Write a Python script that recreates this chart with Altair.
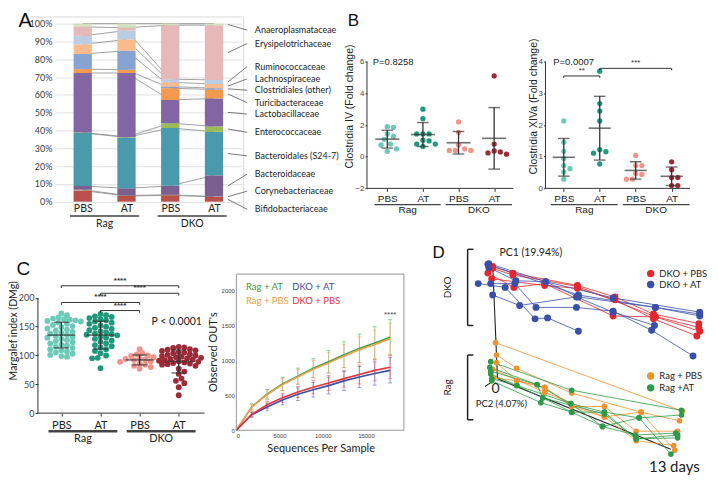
import altair as alt
import pandas as pd

SX, SY = 0.966, 0.955
def X(v): return round(v * SX, 2)
def Y(v): return round(v * SY, 2)

F1 = "Liberation Sans"
F2 = "Lato"
INK = "#333333"

# ===================== Panel A data =====================
a_treat = ["PBS", "AT", "PBS", "AT"]
a_strain = ["Rag", "Rag", "DKO", "DKO"]
a_families = ["Bifidobacteriaceae", "Corynebacteriaceae", "Bacteroidaceae",
              "Bacteroidales (S24-7)", "Enterococcaceae", "Lactobacillaceae",
              "Turicibacteraceae", "Clostridiales (other)", "Lachnospiraceae",
              "Ruminococcaceae", "Erysipelotrichaceae", "Anaeroplasmataceae"]
a_colors = ["#b9504c", "#a8a070", "#7b5f90", "#4b99ad", "#9bbb59", "#8266a3",
            "#f39a4f", "#86a3d1", "#f9bb8e", "#bacde5", "#e6b9b8", "#d5e0c0"]
a_rag_pbs = [6.25, 0.5, 2.1, 29.8, 0.2, 33.4, 2.2, 8.5, 5.4, 4.8, 5.0, 1.85]
a_rag_at = [3.2, 0.3, 4.0, 28.6, 0.3, 35.9, 1.8, 10.7, 6.3, 5.0, 1.6, 2.3]
a_dko_pbs = [3.6, 0.3, 5.0, 32.5, 2.7, 13.0, 6.65, 0.9, 2.4, 1.75, 30.35, 0.85]
a_dko_at = [2.7, 0.2, 11.9, 24.5, 3.0, 15.7, 5.0, 0.75, 2.35, 2.3, 30.7, 0.9]
# legend label heights (layout, % units), bottom -> top
a_label_y = [-4.3, 5.9, 15.5, 25.7, 39.0, 49.2, 55.6, 62.6, 69.0, 75.9, 88.8, 96.3]

# ===================== Panel B / C1 data =====================
grp_names = ["Rag PBS", "Rag AT", "DKO PBS", "DKO AT"]
grp_colors = ["#6ccab8", "#21977b", "#f2938b", "#9c2b37"]
b1_rag_pbs = [1.9, 1.86, 1.44, 1.3, 1.1, 0.8, 0.74, 0.5, 0.34]
b1_rag_at = [3.0, 2.4, 1.44, 1.44, 1.44, 1.04, 1.0, 0.8, 0.8, 0.65]
b1_dko_pbs = [2.2, 1.54, 0.74, 0.5, 0.4, 0.4, 0.4]
b1_dko_at = [5.1, 0.8, 0.36, 0.3, 0.24, 0.16]
b2_rag_pbs = [2.13, 1.46, 1.17, 0.94, 0.72, 0.62, 0.52, 0.29]
b2_rag_at = [3.7, 2.68, 2.44, 2.13, 1.22, 1.16, 1.11, 0.77]
b2_dko_pbs = [1.04, 0.72, 0.72, 0.47, 0.44, 0.29, 0.29]
b2_dko_at = [0.84, 0.59, 0.34, 0.34, 0.09, 0.09]
b2_brackets = [(0, 1, 3.55, "**"), (1, 3, 3.79, "***")]

c1_rag_pbs = [173, 170, 166, 164, 163, 162, 161, 160, 159, 157, 155, 153, 151, 149,
              147, 145, 143, 141, 139, 138, 136, 134, 132, 131, 129, 127, 125, 123,
              121, 119, 117, 115, 113, 111, 109, 107, 105, 103, 101, 99, 98]
c1_rag_at = [172, 170, 168, 167, 165, 163, 161, 159, 157, 155, 152, 150, 148, 146,
             144, 142, 140, 138, 137, 136, 135, 133, 131, 129, 126, 124, 121, 118,
             116, 114, 111, 108, 104, 100, 96, 95, 78]
c1_dko_pbs = [111, 104, 102, 100, 99, 97, 95, 94, 93, 92, 91, 90, 89, 88, 86, 84, 82, 80, 77]
c1_dko_at = [115, 114, 113, 111, 110, 109, 108, 106, 105, 104, 102, 101, 100, 99, 98,
             97, 96, 95, 94, 93, 92, 91, 90, 89, 88, 87, 86, 85, 84, 82,
             77, 72, 68, 60, 56, 52, 45, 31]
c1_brackets = [(0, 3, 221, "****"), (1, 3, 208, "****"), (0, 2, 192, "****"), (1, 2, 178, "****")]

# ===================== Panel C2 data =====================
c2_depth = [0, 1780, 3560, 5340, 7120, 8900, 10680, 12460, 14240, 16020, 17800]
c2_series = ["Rag + AT", "Rag + PBS", "DKO + AT", "DKO + PBS"]
c2_colors = ["#3f9a48", "#f0a04c", "#3e4fa2", "#e6323f"]
c2_rag_at = [0, 333, 514, 660, 773, 887, 978, 1078, 1169, 1247, 1329]
c2_rag_pbs = [0, 330, 508, 652, 762, 872, 962, 1060, 1148, 1224, 1306]
c2_dko_at = [0, 221, 333, 432, 514, 578, 637, 705, 760, 810, 855]
c2_dko_pbs = [0, 228, 364, 464, 546, 614, 674, 737, 796, 855, 900]
c2_rag_at_err = [0, 45, 70, 95, 115, 135, 160, 185, 205, 230, 250]
c2_rag_pbs_err = [0, 40, 65, 85, 105, 125, 145, 165, 185, 205, 225]
c2_dko_at_err = [0, 35, 55, 70, 90, 105, 120, 135, 150, 165, 180]
c2_dko_pbs_err = [0, 35, 50, 65, 80, 95, 105, 120, 135, 150, 165]

# ===================== Panel D data (projected PCA coordinates) =====================
d_groups = ["DKO + PBS", "DKO + AT", "Rag + PBS", "Rag +AT"]
d_colors = ["#e5262e", "#3a4fa8", "#f0922e", "#2f9a4a"]
d_dko_pbs = [
    [(28, 20), (49, 27), (116, 40), (155, 52), (195, 70), (242, 80)],
    [(23, 27), (50, 42), (82, 38), (153, 72), (197, 73), (243, 88)],
    [(27, 33), (82, 40), (116, 43), (155, 55), (195, 75), (240, 93)],
    [(28, 22), (49, 29), (116, 41), (195, 72), (242, 84)],
]
d_dko_at = [
    [(24, 17), (83, 36), (153, 53), (243, 68)],
    [(23, 18), (117, 50), (197, 63), (243, 72)],
    [(13, 38), (41, 42), (72, 75), (85, 74), (117, 88)],
    [(26, 38), (51, 38), (73, 63), (115, 63), (153, 67), (193, 87), (236, 114)],
    [(28, 50), (56, 61), (115, 52), (153, 68), (196, 82)],
    [(24, 21), (52, 35), (83, 36), (117, 52), (197, 63), (243, 70)],
]
d_rag_pbs = [
    [(31, 100), (225, 172)],
    [(32, 113), (53, 127), (110, 153), (182, 173), (222, 182)],
    [(32, 121), (53, 140), (82, 147), (110, 167), (144, 167), (177, 193), (220, 193)],
    [(28, 128), (82, 152), (144, 178), (177, 203), (216, 208)],
    [(29, 137), (53, 140), (82, 147), (110, 167), (144, 178), (182, 173), (217, 213)],
]
d_rag_at = [
    [(25, 126), (74, 144), (109, 164), (144, 173), (180, 179), (224, 176)],
    [(26, 133), (53, 145), (80, 158), (110, 173), (142, 188), (176, 197), (218, 195)],
    [(27, 140), (78, 163), (110, 173), (144, 173), (177, 201), (220, 200)],
    [(27, 138), (53, 145), (109, 164), (142, 188), (180, 179), (213, 217)],
    [(26, 130), (74, 144), (80, 158), (144, 175), (177, 201), (220, 197)],
    [(26, 120), (110, 150), (224, 171)],
]
d_axes = [(28, 18, 33, 138), (33, 138, 213, 212), (26, 142, 20, 146)]
d_brackets = [("DKO", 2, 82), ("Rag", 113, 181)]


def ann(text, x, y, **kw):
    return alt.Chart(pd.DataFrame({"t": [text]})).mark_text(**kw).encode(
        x=alt.value(x), y=alt.value(y), text="t:N")


def hline(x1, x2, y, **kw):
    return alt.Chart(pd.DataFrame({"t": [0]})).mark_rule(**kw).encode(
        x=alt.value(x1), x2=alt.value(x2), y=alt.value(y))


def vline(x, y1, y2, **kw):
    return alt.Chart(pd.DataFrame({"t": [0]})).mark_rule(**kw).encode(
        x=alt.value(x), y=alt.value(y1), y2=alt.value(y2))


def ghost(y):
    return hline(0, 5, y, strokeOpacity=0, strokeWidth=1)


def swarm(vals, ppu, d, k=0.97):
    order = sorted(range(len(vals)), key=lambda i: -vals[i])
    cands = [0.0]
    for j in range(1, 60):
        cands += [j * d * 0.5, -j * d * 0.5]
    placed, offs = [], [0.0] * len(vals)
    for i in order:
        yp = vals[i] * ppu
        for c in cands:
            if all((c - px) ** 2 + (yp - py) ** 2 >= d * d * k for px, py in placed):
                break
        offs[i] = c
        placed.append((c, yp))
    return offs


def lin_scale(dom, r0, r1, size, reverse=False):
    """Linear scale mapping dom[0] -> r0 px and dom[1] -> r1 px in a view of `size` px,
    written as a domain over the default [0, size] range."""
    a, b = dom
    if not reverse:
        ppu = (r1 - r0) / (b - a)
        lo = a - r0 / ppu
    else:
        ppu = (r0 - r1) / (b - a)
        lo = a - (size - r0) / ppu
    return alt.Scale(domain=[lo, lo + size / ppu], nice=False, zero=False)


lab_expr = "[" + ",".join("'%s'" % t for t in a_treat) + "][datum.value]"
strains = []
for s_ in a_strain:
    if s_ not in strains:
        strains.append(s_)
grp_centers = [sum(i for i, s2 in enumerate(a_strain) if s2 == s) / a_strain.count(s) for s in strains]
grp_scale = alt.Scale(domain=grp_names, range=grp_colors)


def dot_panel(series, W, H, xdom, xr, ydom, yr, yticks, ytitle, dot, d, mean_w, cap_w,
              xlab, ylab, ytsize, font, grp_dy, grp_tdy, grp_shift, grp_half, grp_w,
              ytick, xlab_pad, kcol=0.97):
    ppu = (yr[0] - yr[1]) / (ydom[1] - ydom[0])
    step = xr / (xdom[1] - xdom[0])
    rows = []
    for gi, vals in enumerate(series):
        offs = swarm(vals, ppu, d, kcol)
        for v, o in zip(vals, offs):
            rows.append({"grp": grp_names[gi], "idx": gi, "value": v, "xpos": gi + o / step})
    df = pd.DataFrame(rows)
    xs = lin_scale(xdom, 0, xr, W)
    ys = lin_scale(ydom, yr[0], yr[1], H, reverse=True)
    xax = alt.Axis(values=[0, 1, 2, 3], labelExpr=lab_expr, title="", grid=False, tickSize=3,
                   tickColor=INK, domain=False, labelFont=font, labelFontSize=xlab,
                   labelColor="#222", labelPadding=xlab_pad)
    yax = alt.Axis(values=yticks, title=ytitle, grid=False, tickSize=ytick, tickColor=INK,
                   domain=False, labelFont=font, labelFontSize=ylab, labelColor="#444",
                   labelPadding=1, titleFont=font, titleFontSize=ytsize, titleFontWeight="normal",
                   titleColor="#222", titlePadding=0)
    X_ = lambda f: alt.X(f, scale=xs, axis=xax, title="")
    Y_ = lambda f: alt.Y(f, scale=ys, axis=yax, title=ytitle)
    dl = pd.DataFrame({"x0": [xdom[0]], "x1": [xdom[1]], "y0": [ydom[0]], "y1": [ydom[1]]})
    xline = alt.Chart(dl).mark_rule(color=INK, strokeWidth=1).encode(x=X_("x0:Q"), x2="x1:Q", y=Y_("y0:Q"))
    yline = alt.Chart(dl).mark_rule(color=INK, strokeWidth=1).encode(x=X_("x0:Q"), y=Y_("y0:Q"), y2="y1:Q")
    pts = alt.Chart(df).mark_circle(size=dot, opacity=1).encode(
        x=X_("xpos:Q"), y=Y_("value:Q"),
        color=alt.Color("grp:N", scale=grp_scale, legend=None))
    stats = alt.Chart(df).transform_aggregate(
        m="mean(value)", s="stdev(value)", groupby=["idx"]).transform_calculate(
        lo="datum.m - datum.s", hi="datum.m + datum.s")
    err = stats.mark_rule(color=INK, strokeWidth=1.3).encode(x=X_("idx:Q"), y=Y_("lo:Q"), y2="hi:Q")
    mt = stats.mark_tick(orient="horizontal", size=mean_w, thickness=1.6, color=INK).encode(
        x=X_("idx:Q"), y=Y_("m:Q"))
    cl = stats.mark_tick(orient="horizontal", size=cap_w, thickness=1.4, color=INK).encode(
        x=X_("idx:Q"), y=Y_("lo:Q"))
    ch = stats.mark_tick(orient="horizontal", size=cap_w, thickness=1.4, color=INK).encode(
        x=X_("idx:Q"), y=Y_("hi:Q"))
    dg = pd.DataFrame({"g": strains, "c": grp_centers})
    gr = alt.Chart(dg).transform_calculate(
        x1=f"datum.c + {grp_shift} - {grp_half}", x2=f"datum.c + {grp_shift} + {grp_half}",
        xm=f"datum.c + {grp_shift}")
    gl = gr.mark_rule(color="#444", strokeWidth=grp_w).encode(
        x=X_("x1:Q"), x2="x2:Q", y=alt.value(H + grp_dy))
    gt = gr.mark_text(font=font, fontSize=xlab, color="#222", baseline="middle").encode(
        x=X_("xm:Q"), y=alt.value(H + grp_tdy), text="g:N")
    ctx = {"X": X_, "Y": Y_}
    return [xline, yline, pts, err, mt, cl, ch, gl, gt], ctx


def brackets(br, ctx, drop, fsize, bold=False):
    X_, Y_ = ctx["X"], ctx["Y"]
    df = pd.DataFrame(br, columns=["a", "b", "yv", "lab"])
    base = alt.Chart(df).transform_calculate(yl=f"datum.yv - {drop}", xm="(datum.a + datum.b) / 2")
    h = base.mark_rule(color=INK, strokeWidth=1).encode(x=X_("a:Q"), x2="b:Q", y=Y_("yv:Q"))
    l = base.mark_rule(color=INK, strokeWidth=1).encode(x=X_("a:Q"), y=Y_("yv:Q"), y2="yl:Q")
    r = base.mark_rule(color=INK, strokeWidth=1).encode(x=X_("b:Q"), y=Y_("yv:Q"), y2="yl:Q")
    t = base.mark_text(fontSize=fsize, dy=-1, baseline="bottom", color=INK, font=F1,
                       fontWeight="bold" if bold else "normal").encode(
        x=X_("xm:Q"), y=Y_("yv:Q"), text="lab:N")
    return [h, l, r, t]


# ===================== Panel A =====================
rowsA = []
for i, vals in enumerate([a_rag_pbs, a_rag_at, a_dko_pbs, a_dko_at]):
    cum = 0.0
    for j, (f, v) in enumerate(zip(a_families, vals)):
        rowsA.append({"idx": i, "family": f, "k": j, "lo": cum, "hi": cum + v})
        cum += v
dfA = pd.DataFrame(rowsA)
HA, WA = Y(187), X(193)
xsA = lin_scale((-0.5, 3.5), 0, X(192), WA)
ysA = alt.Scale(domain=[0, 100], nice=False)
xaxA = alt.Axis(values=[0, 1, 2, 3], labelExpr=lab_expr, title="", grid=False, ticks=False,
                domain=False, labelFont=F2, labelFontSize=10.5, labelColor="#222", labelPadding=2)
yaxA = alt.Axis(values=list(range(0, 101, 10)), labelExpr="datum.value + '%'", title="", grid=True,
                gridColor="#d9d9d9", gridWidth=0.8, ticks=False, domain=False, labelFont=F2,
                labelFontSize=9, labelColor="#404040", labelPadding=4)
XA = lambda f: alt.X(f, scale=xsA, axis=xaxA, title="")
YA = lambda f: alt.Y(f, scale=ysA, axis=yaxA, title="")

connA = alt.Chart(dfA).mark_line(color="#8a8a8a", strokeWidth=0.8).encode(
    x=XA("idx:Q"), y=YA("hi:Q"), detail="family:N")
barsA = alt.Chart(dfA).mark_bar(size=X(19)).encode(
    x=XA("idx:Q"), y=YA("lo:Q"), y2="hi:Q",
    color=alt.Color("family:N", scale=alt.Scale(domain=a_families, range=a_colors), legend=None))
dgA = pd.DataFrame({"g": strains, "c": grp_centers})
grA = alt.Chart(dgA).transform_calculate(x1="datum.c - 0.79", x2="datum.c + 0.79")
glA = grA.mark_rule(color="#404040", strokeWidth=1.6).encode(
    x=XA("x1:Q"), x2="x2:Q", y=alt.value(HA + Y(15)))
gtA = grA.mark_text(font=F2, fontSize=10.5, color="#222", baseline="middle").encode(
    x=XA("c:Q"), y=alt.value(HA + Y(23)), text="g:N")
borderTop = hline(X(-27), X(195), Y(-7), color="#d0d0d0", strokeWidth=0.8)
borderRight = vline(X(195), Y(-7), Y(197), color="#d0d0d0", strokeWidth=0.8)
letterA = ann("A", X(-32), Y(-3), font=F1, fontSize=20, color="#111", align="center", baseline="middle")
ROW1_BOTTOM = 211.0
chartA = alt.layer(connA, barsA, glA, gtA, borderTop, borderRight, letterA,
                   ghost(ROW1_BOTTOM - 0.5)).properties(width=WA, height=HA)

# legend with leader lines
mids = []
cum = 0.0
for v in a_dko_at:
    mids.append(cum + v / 2)
    cum += v
dfL = pd.DataFrame({"family": a_families, "ly": a_label_y, "mid": mids})
leaders = alt.Chart(dfL).mark_rule(color="#404040", strokeWidth=0.7).encode(
    x=alt.value(X(-15)), x2=alt.value(X(5)),
    y=alt.Y("mid:Q", scale=ysA, axis=None), y2="ly:Q")
labelsL = alt.Chart(dfL).mark_text(align="left", baseline="middle", font=F2, fontSize=9,
                                   color="#222").encode(
    x=alt.value(X(13)), y=alt.Y("ly:Q", scale=ysA, axis=None), text="family:N")
chartL = alt.layer(leaders, labelsL).properties(width=X(129), height=HA)

# ===================== Panel B1 =====================
HB = Y(173)
b1_layers, ctxB1 = dot_panel(
    [b1_rag_pbs, b1_rag_at, b1_dko_pbs, b1_dko_at], X(185), HB, (-0.57, 3.54), X(152),
    (-2, 6), (HB, Y(40)), [-2, 0, 2, 4, 6], "Clostridia IV (Fold change)",
    28, 6.2, X(25), X(12), 10, 8, 10.5, F1, Y(17), Y(23), 0.07, 0.93, 1.3, 2, 2)
b1_layers += [
    ann("P=0.8258", X(6), Y(40), font=F1, fontSize=9.5, color="#222", align="left", baseline="middle"),
    ann("B", X(-14), Y(-2.5), font=F1, fontSize=17, color="#111", align="center", baseline="middle"),
]
chartB1 = alt.layer(*b1_layers).properties(width=X(185), height=HB)

# ===================== Panel B2 =====================
b2_layers, ctxB2 = dot_panel(
    [b2_rag_pbs, b2_rag_at, b2_dko_pbs, b2_dko_at], X(153), HB, (-0.51, 3.51), X(150),
    (0, 4), (HB, Y(40)), [0, 1, 2, 3, 4], "Clostridia XIVa (Fold change)",
    28, 6.2, X(23), X(12), 10, 8, 10.5, F1, Y(17), Y(23), 0.07, 0.93, 1.3, 2, 2)
b2_layers += brackets(b2_brackets, ctxB2, 0.06, 8)
b2_layers += [ann("P=0.0007", X(8), Y(40), font=F1, fontSize=9.5, color="#222", align="left", baseline="middle")]
chartB2 = alt.layer(*b2_layers).properties(width=X(153), height=HB)

# ===================== Panel C2 geometry =====================
HC2, WC2 = Y(192), X(238)
C2_PLOT_W = X(174)
C2_TOP = Y(28)
xsC2 = lin_scale((0, 19400), 0, C2_PLOT_W, WC2)
ysC2 = lin_scale((0, 2230), HC2, C2_TOP, HC2, reverse=True)

# ===================== Panel C1 =====================
HC = Y(174)
WC1 = X(205)
c1_layers, ctxC1 = dot_panel(
    [c1_rag_pbs, c1_rag_at, c1_dko_pbs, c1_dko_at], WC1, HC, (-0.6, 3.66), X(173),
    (0, 200), (HC, Y(53)), [0, 50, 100, 150, 200], "Margalef index (DMg)",
    34, 5.6, X(29), X(15), 11, 9, 10.5, F2, Y(19), Y(27), 0.05, 0.88, 2.4, 3, 3, 0.75)
c1_layers += brackets(c1_brackets, ctxC1, 4, 8, bold=True)
c1_layers += [
    ann("P < 0.0001", X(118), Y(78), font=F2, fontSize=10.5, color="#222", align="left", baseline="middle"),
    ann("C", X(-15), Y(23), font=F1, fontSize=19, color="#111", align="center", baseline="middle"),
    ann("Sequences Per Sample", WC1 + X(89), HC2 + Y(20), font=F2, fontSize=11, color="#222",
        align="center", baseline="middle"),
    ann("Observed OUT's", WC1 - X(22), Y(110), font=F2, fontSize=11, color="#222", angle=270,
        align="center", baseline="middle"),
]
chartC1 = alt.layer(*c1_layers).properties(width=WC1, height=HC)

# ===================== Panel C2 =====================
xaxC2 = alt.Axis(values=[0, 5000, 10000, 15000], format="d", title="", grid=False, ticks=False,
                 domain=False, labelFont=F1, labelFontSize=6, labelColor="#444", labelPadding=2)
yaxC2 = alt.Axis(values=[0, 500, 1000, 1500, 2000], format="d", title="", grid=False, ticks=False,
                 domain=False, labelFont=F1, labelFontSize=6, labelColor="#444", labelPadding=2)
XC = lambda f: alt.X(f, scale=xsC2, axis=xaxC2, title="")
YC = lambda f: alt.Y(f, scale=ysC2, axis=yaxC2, title="")
rowsC2 = []
for s, m, e in zip(c2_series, [c2_rag_at, c2_rag_pbs, c2_dko_at, c2_dko_pbs],
                   [c2_rag_at_err, c2_rag_pbs_err, c2_dko_at_err, c2_dko_pbs_err]):
    for dpt, mv, ev in zip(c2_depth, m, e):
        rowsC2.append({"series": s, "depth": dpt, "mean": mv, "lo": mv - ev, "hi": mv + ev})
dfC2 = pd.DataFrame(rowsC2)
colC2 = alt.Scale(domain=c2_series, range=c2_colors)
errC2 = alt.Chart(dfC2).transform_filter("datum.depth > 0")
eb = errC2.mark_rule(strokeWidth=0.8, opacity=0.6).encode(
    x=XC("depth:Q"), y=YC("lo:Q"), y2="hi:Q", color=alt.Color("series:N", scale=colC2, legend=None))
ebl = errC2.mark_tick(orient="horizontal", size=X(4), thickness=0.8, opacity=0.6).encode(
    x=XC("depth:Q"), y=YC("lo:Q"), color=alt.Color("series:N", scale=colC2, legend=None))
ebh = errC2.mark_tick(orient="horizontal", size=X(4), thickness=0.8, opacity=0.6).encode(
    x=XC("depth:Q"), y=YC("hi:Q"), color=alt.Color("series:N", scale=colC2, legend=None))
linesC2 = alt.Chart(dfC2).mark_line(strokeWidth=1.6).encode(
    x=XC("depth:Q"), y=YC("mean:Q"), color=alt.Color("series:N", scale=colC2, legend=None))
legC2 = []
for s, c, (lx, ly) in zip(c2_series, c2_colors, [(10, 42), (10, 56), (58, 42), (58, 56)]):
    legC2.append(ann(s, X(lx), Y(ly), font=F2, fontSize=9.5, color=c, align="left", baseline="middle"))
starsC2 = alt.Chart(pd.DataFrame({"t": ["****"], "x": [17800], "y": [1650]})).mark_text(
    font=F1, fontSize=8, color="#444").encode(x=XC("x:Q"), y=YC("y:Q"), text="t:N")
# frame drawn last, from the plot's own scale (outline of the data area)
dfBox = pd.DataFrame({"bx": [0, 19400, 19400, 0, 0], "by": [0, 0, 2230, 2230, 0], "o": [0, 1, 2, 3, 4]})
boxC2 = alt.Chart(dfBox).mark_line(color="#8c8c8c", strokeWidth=0.9).encode(
    x=XC("bx:Q"), y=YC("by:Q"), order="o:Q")
chartC2 = alt.layer(eb, ebl, ebh, linesC2, starsC2, *legC2, boxC2).properties(width=WC2, height=HC2)

# ===================== Panel D =====================
HD, WD = Y(240), X(245)
xsD = alt.Scale(domain=[0, 245], nice=False, zero=False)
ysD = alt.Scale(domain=[240, 0], nice=False, zero=False)
rowsD = []
tid = 0
for g, trajs in zip(d_groups, [d_dko_pbs, d_dko_at, d_rag_pbs, d_rag_at]):
    for tr in trajs:
        for k, (px, py) in enumerate(tr):
            rowsD.append({"dgrp": g, "traj": tid, "step": k, "p1": px, "p2": py,
                          "strain": g.split(" ")[0]})
        tid += 1
dfD = pd.DataFrame(rowsD)
colD = alt.Scale(domain=d_groups, range=d_colors)
dfAx = pd.DataFrame(d_axes, columns=["x1", "y1", "x2", "y2"])
axD = alt.Chart(dfAx).mark_rule(color="#222", strokeWidth=1.1).encode(
    x=alt.X("x1:Q", scale=xsD, axis=None), y=alt.Y("y1:Q", scale=ysD, axis=None),
    x2="x2:Q", y2="y2:Q")
linesD = alt.Chart(dfD).mark_line(strokeWidth=0.9, opacity=0.9).encode(
    x=alt.X("p1:Q", scale=xsD, axis=None), y=alt.Y("p2:Q", scale=ysD, axis=None),
    detail="traj:N", order="step:Q", color=alt.Color("dgrp:N", scale=colD, legend=None))
ptsDKO = alt.Chart(dfD).transform_filter("datum.strain == 'DKO'").mark_circle(size=48, opacity=1).encode(
    x=alt.X("p1:Q", scale=xsD, axis=None), y=alt.Y("p2:Q", scale=ysD, axis=None),
    color=alt.Color("dgrp:N", scale=colD, legend=None))
ptsRag = alt.Chart(dfD).transform_filter("datum.strain == 'Rag'").mark_circle(size=32, opacity=1).encode(
    x=alt.X("p1:Q", scale=xsD, axis=None), y=alt.Y("p2:Q", scale=ysD, axis=None),
    color=alt.Color("dgrp:N", scale=colD, legend=None))
dfBr = pd.DataFrame(d_brackets, columns=["lab", "top", "bot"])
brD = alt.Chart(dfBr).transform_calculate(xa="2", xb="8", ym="(datum.top + datum.bot) / 2")
brV = brD.mark_rule(color="#222", strokeWidth=1.5).encode(
    x=alt.X("xa:Q", scale=xsD, axis=None), y=alt.Y("top:Q", scale=ysD, axis=None), y2="bot:Q")
brT = brD.mark_rule(color="#222", strokeWidth=1.5).encode(
    x=alt.X("xa:Q", scale=xsD, axis=None), x2="xb:Q", y=alt.Y("top:Q", scale=ysD, axis=None))
brB = brD.mark_rule(color="#222", strokeWidth=1.5).encode(
    x=alt.X("xa:Q", scale=xsD, axis=None), x2="xb:Q", y=alt.Y("bot:Q", scale=ysD, axis=None))
brL = brD.mark_text(angle=270, font=F2, fontSize=10, color="#222", baseline="middle").encode(
    x=alt.value(X(-18)), y=alt.Y("ym:Q", scale=ysD, axis=None), text="lab:N")
annD = [
    ann("D", X(-28), Y(6), font=F1, fontSize=17, color="#111", align="center", baseline="middle"),
    ann("PC1 (19.94%)", X(35), Y(6), font=F2, fontSize=10.5, color="#222", align="left", baseline="middle"),
    ann("0", X(31), Y(149), font=F2, fontSize=14, color="#222", align="center", baseline="middle"),
    ann("PC2 (4.07%)", X(37), Y(164), font=F2, fontSize=9.5, color="#222", align="center", baseline="middle"),
    ann("13 days", X(243), Y(231), font=F2, fontSize=15, color="#222", align="right", baseline="middle"),
]
legD = []
for g, c, ly in zip(d_groups, d_colors, [27.5, 39, 135, 147.5]):
    legD.append(alt.Chart(pd.DataFrame({"t": [g]})).mark_circle(size=55, opacity=1, color=c).encode(
        x=alt.value(X(192)), y=alt.value(Y(ly))))
    legD.append(ann(g, X(201), Y(ly), font=F2, fontSize=9.5, color="#222", align="left", baseline="middle"))
ROW2_TOP = -6.0
chartD = alt.layer(axD, linesD, ptsDKO, ptsRag, brV, brT, brB, brL, *annD, *legD,
                   ghost(ROW2_TOP + 0.5)).properties(width=WD, height=HD)

# ===================== Layout =====================
spacer = alt.Chart(pd.DataFrame({"t": [""]})).mark_text().encode(text="t:N").properties(
    width=X(18), height=HA)
top = alt.hconcat(spacer, chartA, chartL, chartB1, chartB2, spacing=0,
                  bounds="flush").resolve_scale(color="independent")
bottom = alt.hconcat(chartC1, chartC2, chartD, spacing=0,
                     bounds="flush").resolve_scale(color="independent")
row_gap = (HA + Y(48)) - ROW1_BOTTOM + ROW2_TOP
chart = alt.vconcat(top, bottom, spacing=round(row_gap, 2)).resolve_scale(
    color="independent").configure_view(strokeWidth=0).properties(
    padding={"left": 0, "top": 2, "right": 2, "bottom": 2})

chart.save("out.html", embed_options={"renderer": "svg", "actions": False})
